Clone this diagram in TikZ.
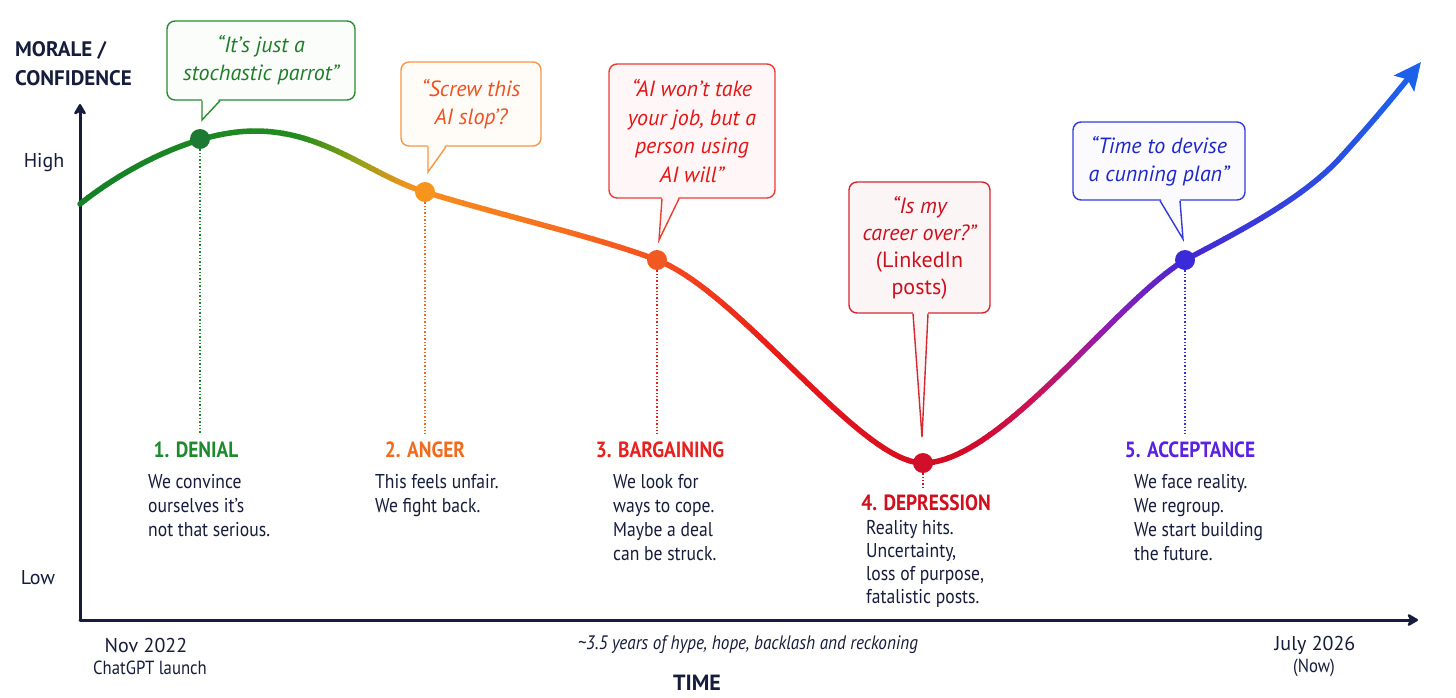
\documentclass[tikz,border=0pt]{standalone}
\usepackage{fontspec}
\setmainfont{PT Sans}
\newfontfamily\condfont{PT Sans}[FakeStretch=0.88]
\usetikzlibrary{arrows.meta,calc}
\definecolor{navy}{RGB}{22,28,60}
\definecolor{c0}{RGB}{20,128,40}
\definecolor{c1}{RGB}{35,140,30}
\definecolor{c2}{RGB}{150,160,20}
\definecolor{c3}{RGB}{245,145,30}
\definecolor{c4}{RGB}{248,110,30}
\definecolor{c5}{RGB}{245,70,30}
\definecolor{c6}{RGB}{232,25,25}
\definecolor{c7}{RGB}{210,10,35}
\definecolor{c8}{RGB}{200,20,90}
\definecolor{c9}{RGB}{140,30,180}
\definecolor{c10}{RGB}{70,40,210}
\definecolor{c11}{RGB}{20,110,240}
% callout colours
\definecolor{gB}{RGB}{40,140,50}\definecolor{gT}{RGB}{30,125,40}\definecolor{gF}{RGB}{250,253,250}
\definecolor{oB}{RGB}{248,150,70}\definecolor{oT}{RGB}{240,80,30}\definecolor{oF}{RGB}{255,251,247}
\definecolor{rB}{RGB}{235,60,50}\definecolor{rT}{RGB}{230,20,20}\definecolor{rF}{RGB}{255,247,247}
\definecolor{dB}{RGB}{215,40,50}\definecolor{dT}{RGB}{205,15,30}\definecolor{dF}{RGB}{252,245,246}
\definecolor{bB}{RGB}{50,60,220}\definecolor{bT}{RGB}{30,40,200}\definecolor{bF}{RGB}{250,250,255}
% stage colours
\definecolor{sDen}{RGB}{30,138,46}
\definecolor{sAng}{RGB}{242,106,27}
\definecolor{sBar}{RGB}{232,32,30}
\definecolor{sDep}{RGB}{208,16,30}
\definecolor{sAcc}{RGB}{90,34,224}
\definecolor{dot1}{RGB}{29,122,50}
\definecolor{dot2}{RGB}{247,148,29}
\definecolor{dot3}{RGB}{240,90,34}
\definecolor{dot4}{RGB}{208,16,42}
\definecolor{dot5}{RGB}{58,42,216}
\begin{document}
\begin{tikzpicture}[x=1pt,y=-1pt,
  axisline/.style={navy, line width=3pt, line cap=round, -{Stealth[length=13pt,width=15pt,inset=4pt,round]}},
  curveline/.style={line width=5.5pt, line cap=round, -{Stealth[length=27pt,width=25pt,inset=5pt]}},
  stagedot/.style={circle, minimum size=20pt, inner sep=0pt},
  dotline/.style={dotted, line width=1.4pt},
  calloutbox/.style={rounded corners=8pt, line width=1.4pt, align=center, inner sep=0pt, font=\fontsize{22}{28}\selectfont\itshape},
  stagetitle/.style={font=\condfont\fontsize{22}{24}\selectfont\bfseries, inner sep=0pt},
  stagetext/.style={font=\condfont\fontsize{20}{24}\selectfont, text=navy, align=left, inner sep=0pt, anchor=north west},
  axislabel/.style={font=\fontsize{21}{28}\selectfont\bfseries, text=navy, inner sep=0pt},
  ticklabel/.style={font=\fontsize{20}{22}\selectfont, text=navy, inner sep=0pt},
  smalllabel/.style={font=\condfont\fontsize{19}{20}\selectfont, text=navy, inner sep=0pt}
]
\useasboundingbox (0,0) rectangle (1456,697);
\fill[white] (0,0) rectangle (1456,697);

% axes
\coordinate (O) at (80,620);
\coordinate (Ytop) at (80,104);
\coordinate (Xend) at (1418,620);
\draw[axisline] (O) -- (Ytop);
\draw[axisline] (O) -- (Xend);

\node[axislabel, anchor=west] (mor) at (15,50) {MORALE /};
\node[axislabel, anchor=west] (conf) at (15,78) {CONFIDENCE};
\node[ticklabel] (high) at (44,163) {High};
\node[ticklabel] (low) at (38,578) {Low};

% gradient curve drawn in clipped strips
\def\curvepath{(80,204) .. controls (125,168) and (195,131) .. (255,131)
  .. controls (325,131) and (370,175) .. (425,192)
  .. controls (500,215) and (600,238) .. (657,260)
  .. controls (740,292) and (860,463) .. (923,463)
  .. controls (1000,463) and (1115,302) .. (1185,260)
  .. controls (1250,226) and (1305,196) .. (1340,158)
  .. controls (1370,125) and (1395,95) .. (1421,62)}
\foreach \xa/\xb/\ca/\cb in {70/300/c0/c1, 300/360/c1/c2, 360/410/c2/c3, 410/560/c3/c4, 560/680/c4/c5, 680/780/c5/c6, 780/960/c6/c7, 960/1040/c7/c8, 1040/1110/c8/c9, 1110/1185/c9/c10, 1185/1456/c10/c11} {
  \foreach \k in {1,...,14} {
    \pgfmathsetmacro\lo{\xa+(\k-1)*(\xb-\xa)/14-0.4}
    \pgfmathsetmacro\hi{\xa+\k*(\xb-\xa)/14+0.4}
    \pgfmathtruncatemacro\pc{(\k-0.5)/14*100}
    \colorlet{segc}{\cb!\pc!\ca}
    \begin{scope}
      \clip (\lo,0) rectangle (\hi,697);
      \draw[curveline, segc] \curvepath;
    \end{scope}
  }
}

% stage dots
\node[stagedot, fill=dot1] (d1) at (200,139) {};
\node[stagedot, fill=dot2] (d2) at (425,192) {};
\node[stagedot, fill=dot3] (d3) at (657,260) {};
\node[stagedot, fill=dot4] (d4) at (923,463) {};
\node[stagedot, fill=dot5] (d5) at (1185,260) {};

% stage titles
\node[stagetitle, text=sDen] (l1) at (196,450) {1. DENIAL};
\node[stagetitle, text=sAng] (l2) at (425,450) {2. ANGER};
\node[stagetitle, text=sBar] (l3) at (660,450) {3. BARGAINING};
\node[stagetitle, text=sDep] (l4) at (926,503) {4. DEPRESSION};
\node[stagetitle, text=sAcc] (l5) at (1190,450) {5. ACCEPTANCE};

% dotted guides
\draw[dotline, sDen] (d1) -- ([yshift=8pt]d1 |- l1.north);
\draw[dotline, sAng] (d2) -- ([yshift=8pt]d2 |- l2.north);
\draw[dotline, sBar] (d3) -- ([yshift=8pt]d3 |- l3.north);
\draw[dotline, sDep] (d4) -- ([yshift=6pt]d4 |- l4.north);
\draw[dotline, dot5] (d5) -- ([yshift=8pt]d5 |- l5.north);

% stage descriptions
\node[stagetext] (t1) at (148,474) {We convince\\ourselves it’s\\not that serious.};
\node[stagetext] (t2) at (375,474) {This feels unfair.\\We fight back.};
\node[stagetext] (t3) at (613,474) {We look for\\ways to cope.\\Maybe a deal\\can be struck.};
\node[stagetext, font=\condfont\fontsize{20}{23}\selectfont] (t4) at (866,520) {Reality hits.\\Uncertainty,\\loss of purpose,\\fatalistic posts.};
\node[stagetext] (t5) at (1134,474) {We face reality.\\We regroup.\\We start building\\the future.};

% callouts
\node[calloutbox, draw=gB, fill=gF, text=gT, minimum width=188pt, minimum height=79pt] (q1) at (261,60.5) {“It’s just a\\stochastic parrot”};
\node[calloutbox, draw=oB, fill=oF, text=oT, minimum width=140pt, minimum height=84pt] (q2) at (471,104) {“Screw this\\AI slop’?};
\node[calloutbox, draw=rB, fill=rF, text=rT, minimum width=166pt, minimum height=134pt, font=\fontsize{22}{28.5}\selectfont\itshape] (q3) at (692,131) {“AI won’t take\\your job, but a\\person using\\AI will”};
\node[calloutbox, draw=dB, fill=dF, text=dT, minimum width=141pt, minimum height=131pt, font=\fontsize{22}{27}\selectfont] (q4) at (919.5,247.5) {\itshape “Is my\\\itshape career over?”\\(LinkedIn\\posts)};
\node[calloutbox, draw=bB, fill=bF, text=bT, minimum width=172pt, minimum height=78pt] (q5) at (1159,161) {“Time to devise\\a cunning plan”};

% callout pointers
\coordinate (p1) at (202,120);
\coordinate (p2) at (428,172);
\coordinate (p3) at (659,240);
\coordinate (p4) at (922,437);
\coordinate (p5) at (1183,239);
\foreach \q/\p/\lx/\rx/\bc/\fc in {q1/p1/0/18/gB/gF, q2/p2/0/18/oB/oF, q3/p3/3/20/rB/rF, q4/p4/-9/6/dB/dF, q5/p5/-23/-3/bB/bF} {
  \fill[\fc] ([xshift=\lx pt, yshift=3pt]\p |- \q.south) -- (\p) -- ([xshift=\rx pt, yshift=3pt]\p |- \q.south) -- cycle;
  \draw[\bc, line width=1.4pt, line join=miter] ([xshift=\lx pt]\p |- \q.south) -- (\p) -- ([xshift=\rx pt]\p |- \q.south);
}

% x-axis labels
\node[ticklabel] (nov) at (146,645) {Nov 2022};
\node[smalllabel] (chat) at (150,668) {ChatGPT launch};
\node[ticklabel, font=\condfont\fontsize{19.5}{22}\selectfont\itshape] (span) at (748,645) {\textasciitilde3.5 years of hype, hope, backlash and reckoning};
\node[axislabel, font=\fontsize{22}{24}\selectfont\bfseries] (time) at (697,683) {TIME};
\node[ticklabel] (jul) at (1315,645) {July 2026};
\node[smalllabel] (now) at (1314,668) {(Now)};
\end{tikzpicture}
\end{document}
